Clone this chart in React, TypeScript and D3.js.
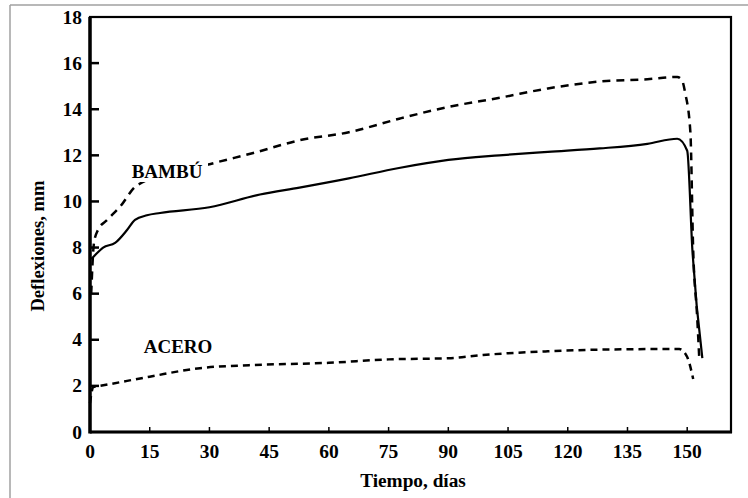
import React from "react";
import * as d3 from "d3";

// tiempo (días) / deflexión (mm)
const bambuSolidT = [0.3, 1.3, 3.3, 6.3, 9.3, 11.3, 14.3, 17.6, 30, 42.7, 52.6, 65, 77.6, 90, 102.8, 115, 128, 140, 147.5, 150, 151.3, 153.8];
const bambuSolidY = [7.5, 7.68, 8.0, 8.2, 8.76, 9.2, 9.4, 9.5, 9.75, 10.3, 10.6, 11.0, 11.45, 11.8, 12.0, 12.15, 12.3, 12.5, 12.72, 12.2, 7.9, 3.2];

const bambuDashT = [0.3, 1.0, 2.0, 4.3, 7.5, 11.8, 31, 41, 52.8, 65, 77.9, 90, 103, 115, 128, 140, 147.5, 148.7, 149.5, 150.8, 151.5, 152.5, 153];
const bambuDashY = [6.0, 8.2, 8.76, 9.2, 9.76, 10.7, 11.66, 12.1, 12.66, 13.0, 13.6, 14.1, 14.5, 14.9, 15.2, 15.3, 15.4, 15.25, 14.7, 13.0, 7.9, 5.0, 3.3];

const aceroT = [0, 0.8, 2.5, 15, 27.6, 40, 60, 75, 90, 98.7, 115, 130, 148, 150, 151.5];
const aceroY = [1.25, 1.95, 2.0, 2.4, 2.77, 2.9, 3.0, 3.15, 3.2, 3.34, 3.5, 3.58, 3.6, 3.25, 2.3];

const xTicks = [0, 15, 30, 45, 60, 75, 90, 105, 120, 135, 150];
const yTicks = [0, 2, 4, 6, 8, 10, 12, 14, 16, 18];

const W = 748;
const H = 498;
const left = 90;
const right = 731;
const top = 17;
const bottom = 432;

const FONT = "'Liberation Serif', 'Times New Roman', serif";

export default function App() {
  const x = d3.scaleLinear().domain([0, 161]).range([left, right]);
  const y = d3.scaleLinear().domain([0, 18]).range([bottom, top]);

  const line = d3
    .line<[number, number]>()
    .x((d) => x(d[0]))
    .y((d) => y(d[1]))
    .curve(d3.curveMonotoneX);

  const zip = (t: number[], v: number[]) => t.map((d, i) => [d, v[i]] as [number, number]);

  return (
    <svg
      width={W}
      height={H}
      style={{ position: "fixed", left: 0, top: 0, background: "#fff" }}
      fontFamily={FONT}
    >
      {/* marco exterior */}
      <line x1={10} y1={5} x2={W} y2={5} stroke="#a0a0a0" strokeWidth={1.5} />
      <line x1={10} y1={5} x2={10} y2={H} stroke="#a0a0a0" strokeWidth={1.5} />

      {/* curvas */}
      <path d={line(zip(bambuSolidT, bambuSolidY)) ?? ""} fill="none" stroke="#000" strokeWidth={2.2} />
      <path d={line(zip(bambuDashT, bambuDashY)) ?? ""} fill="none" stroke="#000" strokeWidth={2.5} strokeDasharray="8,6" />
      <path d={line(zip(aceroT, aceroY)) ?? ""} fill="none" stroke="#000" strokeWidth={2.5} strokeDasharray="7,5" />

      {/* etiquetas de serie */}
      <rect x={128} y={158} width={80} height={24} fill="#fff" />
      <text x={167} y={178} textAnchor="middle" fontWeight="bold" fontSize={19}>BAMBÚ</text>
      <text x={178} y={353} textAnchor="middle" fontWeight="bold" fontSize={19}>ACERO</text>

      {/* ejes */}
      <rect x={left} y={top} width={right - left} height={bottom - top} fill="none" stroke="#000" strokeWidth={2.2} />
      <line x1={left} y1={top} x2={left} y2={bottom + 1.5} stroke="#000" strokeWidth={3.5} />
      <line x1={left} y1={bottom} x2={right + 1} y2={bottom} stroke="#000" strokeWidth={3} />

      {yTicks.map((t) => (
        <g key={"y" + t}>
          {t > 0 && t < 18 && <line x1={left} x2={left + 9} y1={y(t)} y2={y(t)} stroke="#000" strokeWidth={2.5} />}
          <text x={82} y={y(t) + 6.5} textAnchor="end" fontWeight="bold" fontSize={19.5}>{t}</text>
        </g>
      ))}
      {xTicks.map((t) => (
        <g key={"x" + t}>
          {t > 0 && <line x1={x(t)} x2={x(t)} y1={bottom} y2={bottom - 5} stroke="#000" strokeWidth={1.5} />}
          <text x={x(t)} y={458} textAnchor="middle" fontWeight="bold" fontSize={19.5}>{t}</text>
        </g>
      ))}

      <text x={413} y={487} textAnchor="middle" fontWeight="bold" fontSize={19.3}>Tiempo, días</text>
      <text
        transform="translate(44,246) rotate(-90)"
        textAnchor="middle"
        fontWeight="bold"
        fontSize={18.6}
      >
        Deflexiones, mm
      </text>
    </svg>
  );
}
